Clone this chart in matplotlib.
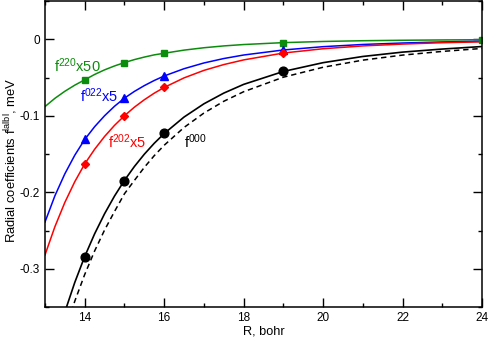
import matplotlib
matplotlib.use("Agg")
import matplotlib.pyplot as plt
from matplotlib.ticker import MultipleLocator, FixedLocator, FixedFormatter

plt.rcParams["font.family"] = ["Liberation Sans", "DejaVu Sans"]
plt.rcParams["mathtext.fontset"] = "custom"
plt.rcParams["mathtext.rm"] = "Liberation Sans"
plt.rcParams["mathtext.it"] = "Liberation Sans"
plt.rcParams["axes.unicode_minus"] = False

# computed points (markers)
R_pts = [14, 15, 16, 19]
f000_pts = [-0.284, -0.185, -0.123, -0.042]
f202_pts = [-0.163, -0.100, -0.063, -0.018]
f022_pts = [-0.131, -0.077, -0.048, -0.014]
R_pts_220 = [14, 15, 16, 19, 24]
f220_pts = [-0.053, -0.0305, -0.0183, -0.0044, -0.001]

# fitted curves
R_fit = [13, 13.25, 13.5, 13.75, 14, 14.25, 14.5, 14.75, 15, 15.25, 15.5, 15.75,
         16, 16.5, 17, 17.5, 18, 19, 20, 21, 22, 23, 24]
f000_fit = [-0.450, -0.4006, -0.3565, -0.3179, -0.2840, -0.2543, -0.2281, -0.2050,
            -0.1845, -0.1664, -0.1503, -0.1360, -0.1233, -0.1017, -0.0844, -0.0704,
            -0.0590, -0.0421, -0.0306, -0.0225, -0.0168, -0.0128, -0.0095]
f000_dash = [-0.4786, -0.4272, -0.3821, -0.3424, -0.3075, -0.2767, -0.2494, -0.2252,
             -0.2020, -0.1846, -0.1675, -0.1522, -0.1386, -0.1153, -0.0965, -0.0811,
             -0.0686, -0.0496, -0.0366, -0.0273, -0.0207, -0.0159, -0.0120]
f202_fit = [-0.282, -0.245, -0.2133, -0.1862, -0.163, -0.1438, -0.1271, -0.1126,
            -0.100, -0.0888, -0.0791, -0.0705, -0.063, -0.0505, -0.0407, -0.0331,
            -0.027, -0.018, -0.0124, -0.0087, -0.0063, -0.0045, -0.0034]
f022_fit = [-0.239, -0.2046, -0.1759, -0.1516, -0.131, -0.1143, -0.1000, -0.0876,
            -0.077, -0.0682, -0.0606, -0.0539, -0.048, -0.0385, -0.031, -0.0252,
            -0.0206, -0.014, -0.0097, -0.0068, -0.0049, -0.0035, -0.0026]
f220_fit = [-0.088, -0.0772, -0.068, -0.060, -0.053, -0.046, -0.040, -0.0349,
            -0.0305, -0.0266, -0.0233, -0.0204, -0.0183, -0.0142, -0.0111, -0.0087,
            -0.0069, -0.0044, -0.0029, -0.0019, -0.0013, -0.0009, -0.0006]

GREEN = "#0c8c0c"
BLUE = "#0000ff"
RED = "#ff0000"

fig = plt.figure(figsize=(4.91, 3.37), dpi=100)
ax = fig.add_axes([0.0916, 0.089, 0.890, 0.908])

ax.plot(R_fit, f220_fit, color=GREEN, lw=1.1)
ax.plot(R_fit, f022_fit, color=BLUE, lw=1.1)
ax.plot(R_fit, f202_fit, color=RED, lw=1.1)
ax.plot(R_fit, f000_fit, color="black", lw=1.2)
ax.plot(R_fit, f000_dash, color="black", lw=1.1, dashes=(3.5, 2.5))

ax.plot(R_pts_220, f220_pts, ls="none", marker="s", ms=5, color=GREEN)
ax.plot(R_pts, f022_pts, ls="none", marker="^", ms=6, color=BLUE)
ax.plot(R_pts, f202_pts, ls="none", marker="D", ms=4.5, color=RED)
ax.plot(R_pts, f000_pts, ls="none", marker="o", ms=6.3, color="black")

ax.text(13.215, -0.0423, "$\\mathregular{f^{220}x50}$", color=GREEN, fontsize=10.5)
ax.text(13.89, -0.0815, "$\\mathregular{f^{022}x5}$", color=BLUE, fontsize=10.5)
ax.text(14.59, -0.1423, "$\\mathregular{f^{202}x5}$", color=RED, fontsize=10.5)
ax.text(16.5, -0.1423, "$\\mathregular{f^{000}}$", color="black", fontsize=10.5)

ax.set_xlim(13, 24)
ax.set_ylim(-0.35, 0.05)
ax.xaxis.set_major_locator(MultipleLocator(2))
ax.xaxis.set_minor_locator(MultipleLocator(1))
ax.yaxis.set_major_locator(FixedLocator([-0.3, -0.2, -0.1, 0.0]))
ax.yaxis.set_major_formatter(FixedFormatter(["-0.3", "-0.2", "-0.1", "0"]))
ax.yaxis.set_minor_locator(MultipleLocator(0.05))
ax.tick_params(which="both", direction="in", top=True, right=True, labelsize=8.5)
ax.tick_params(which="major", length=6.5, width=1.0)
ax.tick_params(which="minor", length=3.2, width=1.0)
for s in ax.spines.values():
    s.set_linewidth(1.1)

ax.set_xlabel("R, bohr", fontsize=9.2, labelpad=1)
ax.set_ylabel("Radial coefficients $\\mathregular{f^{lalbl}}$, meV", fontsize=9.4)
ax.yaxis.set_label_coords(-0.057, 0.48)

fig.savefig("out.png", dpi=100)
